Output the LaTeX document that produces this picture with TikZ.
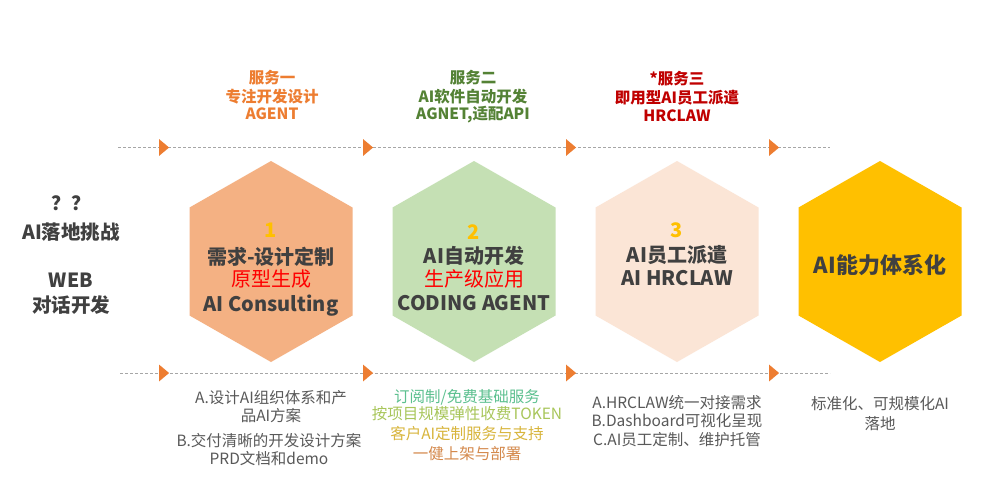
\documentclass[tikz,border=0pt]{standalone}
\usepackage{fontspec}
\setmainfont{Noto Sans CJK SC}
\usetikzlibrary{shapes.geometric}
\definecolor{hexA}{HTML}{F4B183}
\definecolor{hexB}{HTML}{C5E0B4}
\definecolor{hexC}{HTML}{FBE5D6}
\definecolor{hexD}{HTML}{FFC000}
\definecolor{numcol}{HTML}{FFC000}
\definecolor{darktext}{HTML}{404040}
\definecolor{redtext}{HTML}{FF0000}
\definecolor{headA}{HTML}{ED7D31}
\definecolor{headB}{HTML}{548235}
\definecolor{headC}{HTML}{C00000}
\definecolor{graytext}{HTML}{595959}
\definecolor{dashcol}{HTML}{A6A6A6}
\definecolor{arrcol}{HTML}{ED7D31}
\definecolor{gA}{HTML}{5CC08F}
\definecolor{gB}{HTML}{A8C65A}
\definecolor{gC}{HTML}{D8B53C}
\definecolor{gD}{HTML}{D4894C}
\tikzset{
  hexshape/.style={},
  maintext/.style={anchor=base, inner sep=0pt, text=darktext, font=\fontsize{20}{22}\selectfont\bfseries},
  redline/.style={anchor=base, inner sep=0pt, text=redtext, font=\fontsize{20}{22}\selectfont},
  numtext/.style={anchor=base, inner sep=0pt, text=numcol, font=\fontsize{20}{22}\selectfont\bfseries},
  headtext/.style={anchor=base, inner sep=0pt, font=\fontsize{15.5}{17}\selectfont\bfseries},
  lefttext/.style={anchor=base, inner sep=0pt, text=darktext, font=\fontsize{19.5}{21}\selectfont\bfseries},
  bottext/.style={anchor=base, inner sep=0pt, text=graytext, font=\fontsize{15.5}{17}\selectfont},
  dashline/.style={draw=dashcol, line width=0.9pt, dash pattern=on 3pt off 2pt},
  arrtri/.style={isosceles triangle, isosceles triangle apex angle=80, fill=arrcol, inner sep=0pt, minimum height=10pt, minimum width=12pt, shape border rotate=0}
}
\newcommand{\hexfill}[3]{% center x, color, name
  \fill[#2] (#1,161) -- ({#1+81.5},207.5) -- ({#1+81.5},315.5) -- (#1,362) -- ({#1-81.5},315.5) -- ({#1-81.5},207.5) -- cycle;
  \coordinate (#3) at (#1,261.5);
}
\begin{document}
\begin{tikzpicture}[x=1pt,y=-1pt]
\useasboundingbox (0,0) rectangle (985,491);
\fill[white] (0,0) rectangle (985,491);

% dashed lines
\coordinate (tl) at (118,147.5);
\coordinate (tr) at (830,147.5);
\coordinate (bl) at (120,373);
\coordinate (br) at (830,373);
\draw[dashline] (tl) -- (tr);
\draw[dashline] (bl) -- (br);
% arrow triangles
\foreach \x [count=\i] in {163,367,570,773}{
  \node[arrtri] (ta\i) at (\x,147.5) {};
  \node[arrtri] (ba\i) at (\x,373) {};
}

% hexagons
\hexfill{271}{hexA}{h1}
\hexfill{474}{hexB}{h2}
\hexfill{677}{hexC}{h3}
\hexfill{880}{hexD}{h4}

% hex 1 text
\node[numtext] (n1) at (271,237.5) {1};
\node[maintext] (m1a) at (271,264.5) {需求-设计定制};
\node[redline] (m1b) at (271,286) {原型生成};
\node[maintext] (m1c) at (271,311) {AI Consulting};
% hex 2 text
\node[numtext] (n2) at (474,239) {2};
\node[maintext] (m2a) at (474,263.5) {AI自动开发};
\node[redline] (m2b) at (474,286) {生产级应用};
\node[maintext] (m2c) at (474,310.5) {CODING AGENT};
% hex 3 text
\node[numtext] (n3) at (677,237.5) {3};
\node[maintext] (m3a) at (677,262.5) {AI员工派遣};
\node[maintext] (m3b) at (677,285.5) {AI HRCLAW};
% hex 4 text
\node[maintext, font=\fontsize{22}{24}\selectfont\bfseries] (m4) at (880,273.5) {AI能力体系化};

% headers
\node[headtext, text=headA] (hA1) at (272,83) {服务一};
\node[headtext, text=headA] (hA2) at (272,102.5) {专注开发设计};
\node[headtext, text=headA] (hA3) at (272,119) {AGENT};
\node[headtext, text=headB] (hB1) at (473,83) {服务二};
\node[headtext, text=headB] (hB2) at (473,102.5) {AI软件自动开发};
\node[headtext, text=headB] (hB3) at (473,119) {AGNET,适配API};
\node[headtext, text=headC] (hC1) at (677,84) {*服务三};
\node[headtext, text=headC] (hC2) at (677,103.5) {即用型AI员工派遣};
\node[headtext, text=headC] (hC3) at (677,121) {HRCLAW};

% left text
\node[lefttext] (l1) at (71,210) {？？};
\node[lefttext] (l2) at (71,239.5) {AI落地挑战};
\node[lefttext] (l3) at (71,287) {WEB};
\node[lefttext] (l4) at (71,312.5) {对话开发};

% bottom texts
\node[bottext] (b11) at (271,403) {A.设计AI组织体系和产};
\node[bottext] (b12) at (271,421) {品AI方案};
\node[bottext] (b13) at (269,446) {B.交付清晰的开发设计方案};
\node[bottext] (b14) at (269,464) {PRD文档和demo};

\node[bottext, text=gA] (b21) at (467,402) {订阅制/免费基础服务};
\node[bottext, text=gB] (b22) at (467,419) {按项目规模弹性收费TOKEN};
\node[bottext, text=gC] (b23) at (467,439) {客户AI定制服务与支持};
\node[bottext, text=gD] (b24) at (467,459) {一健上架与部署};

\node[bottext] (b31) at (677,408) {A.HRCLAW统一对接需求};
\node[bottext] (b32) at (677,426) {B.Dashboard可视化呈现};
\node[bottext] (b33) at (677,445) {C.AI员工定制、维护托管};

\node[bottext] (b41) at (880,409) {标准化、可规模化AI};
\node[bottext] (b42) at (880,429) {落地};
\end{tikzpicture}
\end{document}
